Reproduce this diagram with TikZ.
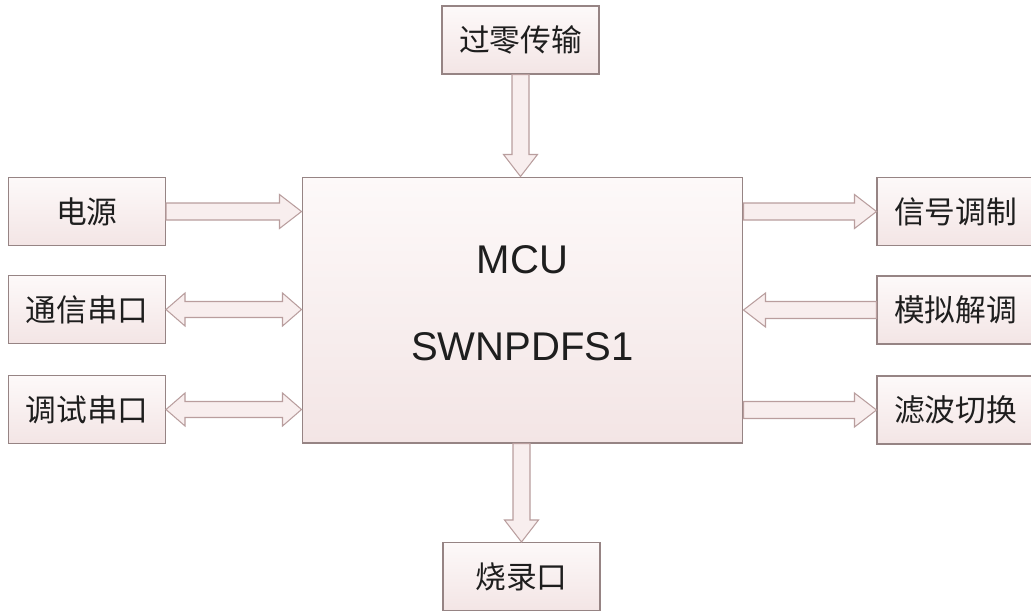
\documentclass[tikz,border=0pt]{standalone}
\usepackage{fontspec}
\setmainfont{Liberation Sans}
\newfontfamily\cjk{Noto Sans CJK SC}
\usetikzlibrary{calc}
\definecolor{boxline}{RGB}{150,132,132}
\definecolor{arrowline}{RGB}{185,158,158}
\definecolor{arrowfill}{RGB}{248,238,238}
\definecolor{boxtop}{RGB}{253,249,249}
\definecolor{boxbottom}{RGB}{243,229,229}
\definecolor{textcol}{RGB}{30,30,30}
\tikzset{
	blockbox/.style={draw=boxline,line width=0.6pt,top color=boxtop,bottom color=boxbottom,
		minimum width=3.14cm,minimum height=1.36cm,inner sep=0pt,text=textcol,
		font=\cjk\fontsize{17.5}{21}\selectfont},
	blk/.style={fill=arrowfill,draw=arrowline,line width=0.6pt,line join=miter,to path={
		-- ($(\tikztostart)!0.17cm!90:(\tikztotarget)$)
		-- ($(\tikztotarget)!0.44cm!(\tikztostart)!0.17cm!-90:(\tikztostart)$)
		-- ($(\tikztotarget)!0.44cm!(\tikztostart)!0.34cm!-90:(\tikztostart)$)
		-- (\tikztotarget)
		-- ($(\tikztotarget)!0.44cm!(\tikztostart)!0.34cm!90:(\tikztostart)$)
		-- ($(\tikztotarget)!0.44cm!(\tikztostart)!0.17cm!90:(\tikztostart)$)
		-- ($(\tikztostart)!0.17cm!-90:(\tikztotarget)$) -- cycle}},
	blkk/.style={fill=arrowfill,draw=arrowline,line width=0.6pt,line join=miter,to path={
		-- ($(\tikztostart)!0.38cm!(\tikztotarget)!0.33cm!90:(\tikztotarget)$)
		-- ($(\tikztostart)!0.38cm!(\tikztotarget)!0.16cm!90:(\tikztotarget)$)
		-- ($(\tikztotarget)!0.38cm!(\tikztostart)!0.16cm!-90:(\tikztostart)$)
		-- ($(\tikztotarget)!0.38cm!(\tikztostart)!0.33cm!-90:(\tikztostart)$)
		-- (\tikztotarget)
		-- ($(\tikztotarget)!0.38cm!(\tikztostart)!0.33cm!90:(\tikztostart)$)
		-- ($(\tikztotarget)!0.38cm!(\tikztostart)!0.16cm!90:(\tikztostart)$)
		-- ($(\tikztostart)!0.38cm!(\tikztotarget)!0.16cm!-90:(\tikztotarget)$)
		-- ($(\tikztostart)!0.38cm!(\tikztotarget)!0.33cm!-90:(\tikztotarget)$) -- cycle}}
}
\begin{document}
\begin{tikzpicture}[x=0.02cm,y=-0.02cm]
	\useasboundingbox (0,0) rectangle (1031,610);
	\node [blockbox,minimum width=8.82cm,minimum height=5.32cm,align=center,text depth=0.28cm,
		font=\fontsize{22.8}{49}\selectfont] (mcu) at (522.5,310) {MCU\\SWNPDFS1};
	\node [blockbox] (zero) at (520.5,40) {过零传输};
	\node [blockbox] (burn) at (521.5,576.5) {烧录口};
	\node [blockbox] (pwr) at (87,211.5) {电源};
	\node [blockbox] (comm) at (87,309.5) {通信串口};
	\node [blockbox] (dbg) at (87,409.5) {调试串口};
	\node [blockbox] (sig) at (955.5,211.5) {信号调制};
	\node [blockbox] (demod) at (955.5,310) {模拟解调};
	\node [blockbox] (filt) at (955.5,410) {滤波切换};
	\draw [blk] (zero.south) to (zero.south |- mcu.north);
	\draw [blk] (mcu.south -| burn.north) to (burn.north);
	\draw [blk] (pwr.east) to (pwr.east -| mcu.west);
	\draw [blkk] (comm.east) to (comm.east -| mcu.west);
	\draw [blkk] (dbg.east) to (dbg.east -| mcu.west);
	\draw [blk] (sig.west -| mcu.east) to (sig.west);
	\draw [blk] (demod.west) to (demod.west -| mcu.east);
	\draw [blk] (filt.west -| mcu.east) to (filt.west);
\end{tikzpicture}
\end{document}
